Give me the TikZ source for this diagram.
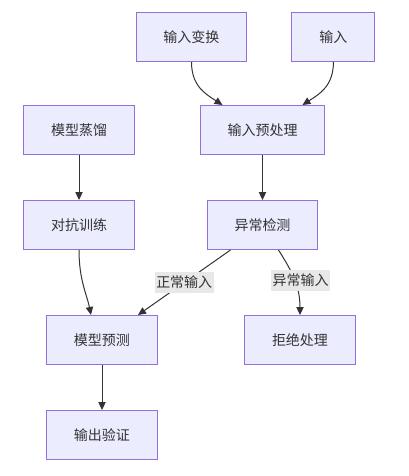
\documentclass[tikz,border=0pt]{standalone}
\usepackage{fontspec}
\newfontfamily\cjkfont{Noto Sans CJK SC}
\usepackage{xcolor}
\usepackage{tikz}
\usetikzlibrary{arrows.meta, positioning, calc}
\definecolor{mmfill}{HTML}{ECECFF}
\definecolor{mmborder}{HTML}{9370DB}
\definecolor{mmtext}{HTML}{333333}
\definecolor{mmlabel}{HTML}{E8E8E8}

\begin{document}
\begin{tikzpicture}[
    x=0.75pt, y=-0.75pt,
    node distance=33.75pt and 33pt,
    font=\cjkfont\fontsize{10.5pt}{12.6pt}\selectfont,
    >={Triangle[length=6pt, width=5.5pt]},
    every node/.style={text=mmtext},
    proc/.style={draw=mmborder, fill=mmfill, line width=0.75pt, minimum height=36.75pt, inner xsep=20.6pt},
    arrow/.style={->, line width=0.75pt, mmtext},
    elabel/.style={fill=mmlabel, inner xsep=1pt, inner ysep=3pt},
]
\useasboundingbox (0,0) rectangle (409,476);

% --- Top: inputs
\node[proc] at (191.5,37)        (trans)  {输入变换};
\node[proc, right=of trans]      (inp)    {输入};
\node[proc] at (262.5,130)       (pre)    {输入预处理};
\node[proc, below=of pre]        (det)    {异常检测};

% --- Left column: training
\node[proc] at (79,130)          (distil) {模型蒸馏};
\node[proc, below=of distil]     (adv)    {对抗训练};

% --- Bottom: outcomes
\node[proc] at (102,340)         (pred)   {模型预测};
\node[proc, below=of pred]       (check)  {输出验证};
\node[proc] at (300,340)         (rej)    {拒绝处理};

% --- Arrows
\draw[arrow] (trans.south) .. controls +(0,24) and +(-17,-11) .. ($(pre.north)+(-40,0)$);
\draw[arrow] (inp.south)   .. controls +(0,24) and +(17,-11)  .. ($(pre.north)+(40,0)$);
\draw[arrow] (pre)    -- (det);
\draw[arrow] (distil) -- (adv);
\draw[arrow] (adv.south) .. controls +(0,30) and +(-4,-20) .. ($(pred.north)+(-11,0)$);
\draw[arrow] ($(det.south)+(-32,0)$) -- node[elabel]{正常输入} ($(pred.north)+(36,0)$);
\draw[arrow] ($(det.south)+(16,0)$) .. controls +(14,22) and +(0,-28)
    .. node[elabel, pos=0.5, xshift=4.5pt]{异常输入} (rej.north);
\draw[arrow] (pred)   -- (check);

\end{tikzpicture}
\end{document}
